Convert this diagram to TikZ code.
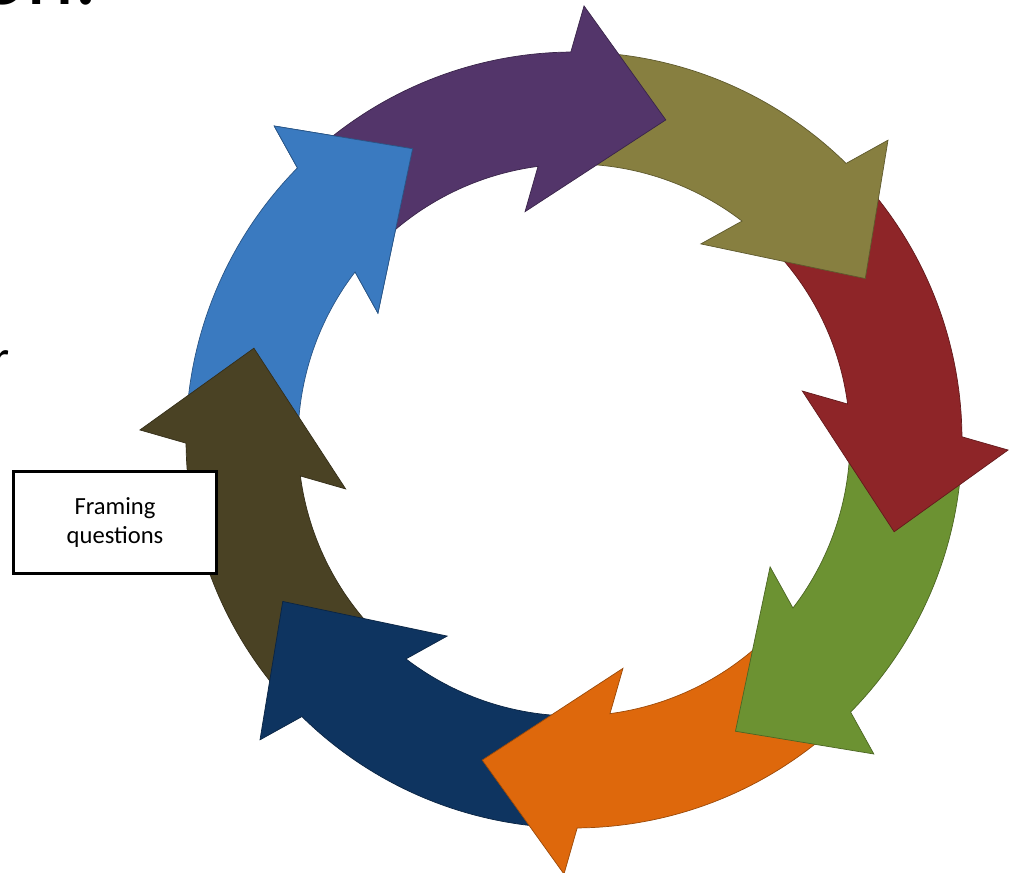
\documentclass[tikz,border=0pt]{standalone}
\usepackage{fontspec}
\setmainfont{Carlito}

\definecolor{ringpurple}{HTML}{53356A}
\definecolor{ringolive}{HTML}{877F40}
\definecolor{ringred}{HTML}{8E2528}
\definecolor{ringgreen}{HTML}{6C9232}
\definecolor{ringorange}{HTML}{DE680C}
\definecolor{ringnavy}{HTML}{0E3460}
\definecolor{ringdkolive}{HTML}{4A4224}
\definecolor{ringblue}{HTML}{3A7AC0}

% one curved block arrow, tip on the x axis, shaft running counter-clockwise
\tikzset{
  ringarrow/.pic={
    \path[pic actions] (6.66,0) -- (8.4,2.2) -- (16.47:7.76)
      arc[start angle=16.47, end angle=58, radius=7.76]
      -- (58:5.52) arc[start angle=58, end angle=23.49, radius=5.52]
      -- (4.12,2.2) -- cycle;
  }
}

\begin{document}
\begin{tikzpicture}[
  seg/.style={fill=#1, draw=#1!70!black, line width=0.4pt, line join=miter},
  title/.style={inner sep=0pt, font=\fontsize{52}{60}\selectfont},
  body/.style={inner sep=0pt, font=\fontsize{28}{34}\selectfont},
  box/.style={rectangle, draw=black, fill=white, line width=1.7pt,
    minimum width=4.06cm, minimum height=2.04cm, align=center,
    font=\fontsize{14}{17}\selectfont}
]
  \useasboundingbox (0,0) rectangle (20.3,17.44);
  \coordinate (c) at (11.48,8.64);

  % cut-off slide text
  \node[title, anchor=base east] (head) at (1.96,17.35) {on.};
  \node[body, anchor=base west] (line) at (-0.16,9.94) {r};

  % drawn counter-clockwise, so every head lies on the tail after it
  \foreach \k/\col in {7/ringblue,6/ringdkolive,5/ringnavy,4/ringorange,
    3/ringgreen,2/ringred,1/ringolive,0/ringpurple} {
    \pgfmathsetmacro{\rot}{74-45*\k}
    \pic[rotate=\rot, seg=\col] at (c) {ringarrow};
  }
  % blue head again, on top of the purple tail
  \begin{scope}
    \clip[shift={(c)}, rotate=-241] (3,-1.6) -- (9.6,-1.6) -- (9.6,2.22)
      -- (3,2.22) -- cycle;
    \pic[rotate=-241, seg=ringblue] at (c) {ringarrow};
  \end{scope}

  \node[box] (frame) at (2.30,6.99) {Framing\\questions};
\end{tikzpicture}
\end{document}
